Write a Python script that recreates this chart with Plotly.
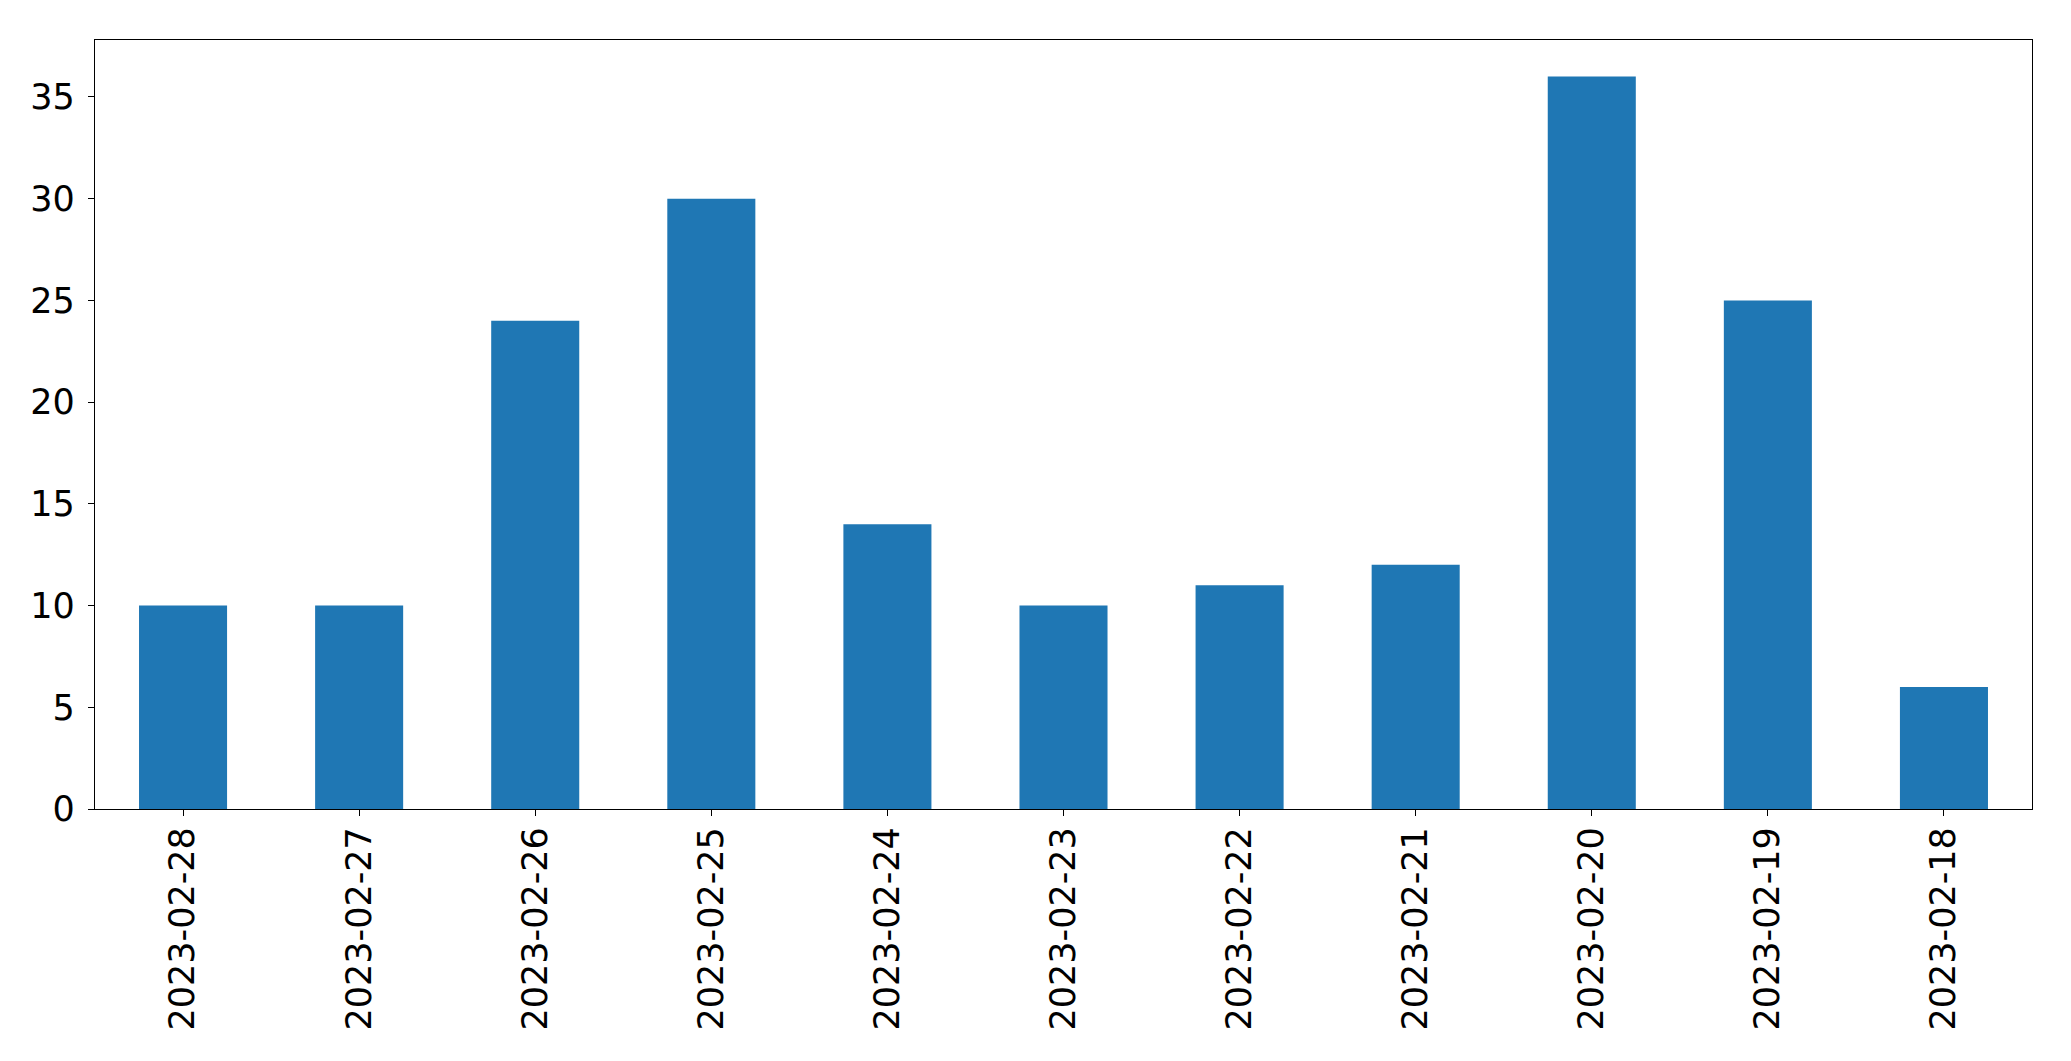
import plotly.graph_objects as go

dates = ["2023-02-28", "2023-02-27", "2023-02-26", "2023-02-25", "2023-02-24",
         "2023-02-23", "2023-02-22", "2023-02-21", "2023-02-20", "2023-02-19", "2023-02-18"]
counts = [10, 10, 24, 30, 14, 10, 11, 12, 36, 25, 6]
y_ticks = [0, 5, 10, 15, 20, 25, 30, 35]

fig = go.Figure(go.Bar(x=dates, y=counts, marker_color="#1f77b4", marker_line_width=0, width=0.5))

axis_common = dict(showline=True, linecolor="black", linewidth=1.3, mirror=True,
                   ticks="outside", ticklen=6, tickwidth=1.3, tickcolor="black",
                   showgrid=False, zeroline=False,
                   tickfont=dict(family="DejaVu Sans", size=35, color="black"))

fig.update_layout(
    width=2063, height=1053,
    margin=dict(l=87, r=39, t=32, b=252, autoexpand=False),
    paper_bgcolor="white", plot_bgcolor="white",
    showlegend=False,
    xaxis=dict(type="category", range=[-0.5, 10.5], tickangle=-90, ticklabelstandoff=-3, **axis_common),
    yaxis=dict(range=[0, 37.8], tickvals=y_ticks, ticklabelstandoff=6, **axis_common),
)

fig.write_html("out.html")
